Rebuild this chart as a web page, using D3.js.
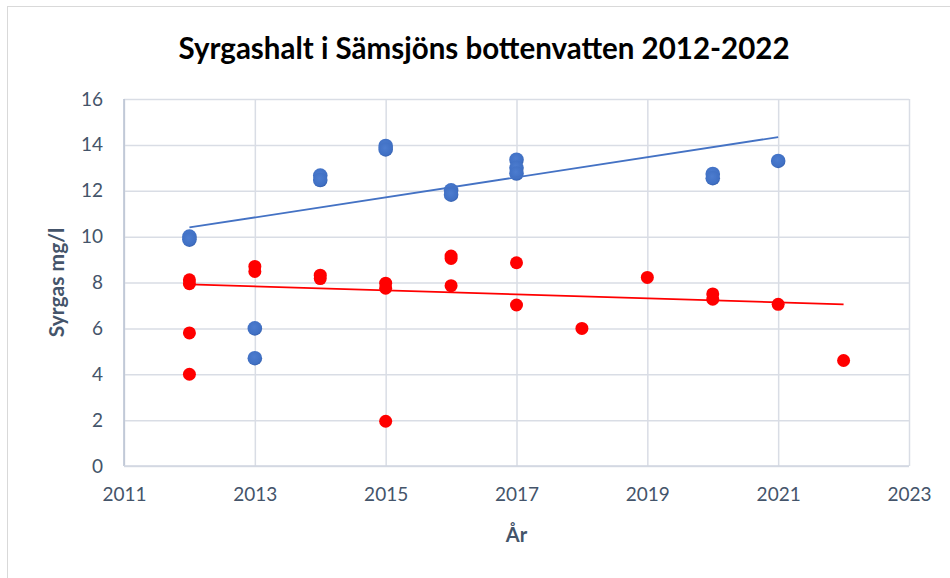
<!DOCTYPE html>
<html>
<head>
<meta charset="utf-8">
<script src="https://cdn.jsdelivr.net/npm/d3@7"></script>
<style>
  body { margin: 0; background: #fff; }
  svg { display: block; font-family: Lato, "Open Sans", sans-serif; }
</style>
</head>
<body>
<div id="chart"></div>
<script>
// Data
const blueYears  = [2012, 2012, 2013, 2013, 2014, 2014, 2015, 2015, 2016, 2016, 2017, 2017, 2017, 2020, 2020, 2021];
const blueValues = [10.0, 9.87, 6.0, 4.7, 12.66, 12.47, 13.95, 13.8, 12.02, 11.83, 13.35, 13.0, 12.75, 12.73, 12.55, 13.3];

const redYears  = [2012, 2012, 2012, 2012, 2013, 2013, 2014, 2014, 2015, 2015, 2015, 2016, 2016, 2016, 2017, 2017, 2018, 2019, 2020, 2020, 2021, 2022];
const redValues = [8.12, 7.95, 5.8, 4.0, 8.7, 8.48, 8.32, 8.17, 7.97, 7.75, 1.95, 9.15, 9.05, 7.86, 8.86, 7.02, 6.0, 8.22, 7.5, 7.27, 7.05, 4.6];

// Linear trend lines (start / end as drawn in the picture)
const blueTrendYears  = [2012, 2021];
const blueTrendValues = [10.4, 14.34];
const redTrendYears   = [2012, 2022];
const redTrendValues  = [7.92, 7.05];

const xTicks = [2011, 2013, 2015, 2017, 2019, 2021, 2023];
const yTicks = [0, 2, 4, 6, 8, 10, 12, 14, 16];

const fontFamily = "Lato, 'Open Sans', sans-serif";

const width = 950, height = 578;
const margin = {top: 99, right: 41, bottom: 112, left: 124};
const graphWidth = width - margin.left - margin.right;
const graphHeight = height - margin.top - margin.bottom;

const svg = d3.select("#chart").append("svg")
    .attr("width", width)
    .attr("height", height);

// outer chart border
svg.append("rect")
    .attr("x", 7.5).attr("y", 6.5)
    .attr("width", width).attr("height", height)
    .attr("fill", "none")
    .attr("stroke", "#D9D9D9")
    .attr("stroke-width", 1);

const x = d3.scaleLinear().domain([2011, 2023]).range([0, graphWidth]);
const y = d3.scaleLinear().domain([0, 16]).range([graphHeight, 0]);

const g = svg.append("g")
    .attr("transform", "translate(" + margin.left + "," + margin.top + ")");

// gridlines
g.append("g")
    .call(d3.axisLeft(y).tickValues(yTicks).tickSize(-graphWidth).tickFormat(""))
    .call(s => s.select(".domain").remove())
    .selectAll("line")
    .attr("stroke", "#D9DDE5")
    .attr("stroke-width", 1.5);

g.append("g")
    .attr("transform", "translate(0," + graphHeight + ")")
    .call(d3.axisBottom(x).tickValues(xTicks).tickSize(-graphHeight).tickFormat(""))
    .call(s => s.select(".domain").remove())
    .selectAll("line")
    .attr("stroke", "#D9DDE5")
    .attr("stroke-width", 1.5);

// axis lines
g.append("line")
    .attr("x1", 0).attr("x2", 0).attr("y1", 0).attr("y2", graphHeight)
    .attr("stroke", "#B8C2D2").attr("stroke-width", 1.5);
g.append("line")
    .attr("x1", 0).attr("x2", graphWidth).attr("y1", graphHeight).attr("y2", graphHeight)
    .attr("stroke", "#D0D6E0").attr("stroke-width", 1.5);

// tick labels
const yAxis = g.append("g")
    .attr("font-family", fontFamily)
    .call(d3.axisLeft(y).tickValues(yTicks).tickSize(0).tickPadding(21).tickFormat(d3.format("d")));
yAxis.attr("font-family", fontFamily);
yAxis.select(".domain").remove();
yAxis.selectAll("text")
    .attr("fill", "#44546A")
    .style("font-size", "19px");

const xAxis = g.append("g")
    .attr("transform", "translate(0," + graphHeight + ")")
    .call(d3.axisBottom(x).tickValues(xTicks).tickSize(0).tickPadding(22).tickFormat(d3.format("d")));
xAxis.attr("font-family", fontFamily);
xAxis.select(".domain").remove();
xAxis.selectAll("text")
    .attr("fill", "#44546A")
    .style("font-size", "19px");

// gradient for blue markers
const defs = svg.append("defs");
const grad = defs.append("radialGradient")
    .attr("id", "blueGrad")
    .attr("cx", "45%").attr("cy", "40%").attr("r", "60%");
grad.append("stop").attr("offset", "0%").attr("stop-color", "#4C7CCF");
grad.append("stop").attr("offset", "80%").attr("stop-color", "#4070C4");
grad.append("stop").attr("offset", "100%").attr("stop-color", "#3560AE");

const line = d3.line().x(d => x(d[0])).y(d => y(d[1]));

// blue points
g.selectAll(".blue")
    .data(d3.zip(blueYears, blueValues))
    .enter().append("circle")
    .attr("class", "blue")
    .attr("cx", d => x(d[0]))
    .attr("cy", d => y(d[1]))
    .attr("r", 7.3)
    .attr("fill", "url(#blueGrad)");

// red points
g.selectAll(".red")
    .data(d3.zip(redYears, redValues))
    .enter().append("circle")
    .attr("class", "red")
    .attr("cx", d => x(d[0]))
    .attr("cy", d => y(d[1]))
    .attr("r", 6.5)
    .attr("fill", "#FF0000");

// trend lines
g.append("path")
    .attr("d", line(d3.zip(blueTrendYears, blueTrendValues)))
    .attr("fill", "none")
    .attr("stroke", "#4472C4")
    .attr("stroke-width", 1.8);

g.append("path")
    .attr("d", line(d3.zip(redTrendYears, redTrendValues)))
    .attr("fill", "none")
    .attr("stroke", "#FF0000")
    .attr("stroke-width", 1.8);

// title
svg.append("text")
    .attr("x", 484)
    .attr("y", 59)
    .attr("text-anchor", "middle")
    .attr("fill", "#000")
    .style("font-size", "29.5px")
    .style("font-weight", "bold")
    .text("Syrgashalt i Sämsjöns bottenvatten 2012-2022");

// axis titles
svg.append("text")
    .attr("x", margin.left + x(2017))
    .attr("y", 542)
    .attr("text-anchor", "middle")
    .attr("fill", "#44546A")
    .style("font-size", "20px")
    .style("font-weight", "bold")
    .text("År");

svg.append("text")
    .attr("transform", "translate(64," + (margin.top + graphHeight / 2) + ") rotate(-90)")
    .attr("text-anchor", "middle")
    .attr("fill", "#44546A")
    .style("font-size", "21px")
    .style("font-weight", "bold")
    .text("Syrgas mg/l");
</script>
</body>
</html>
